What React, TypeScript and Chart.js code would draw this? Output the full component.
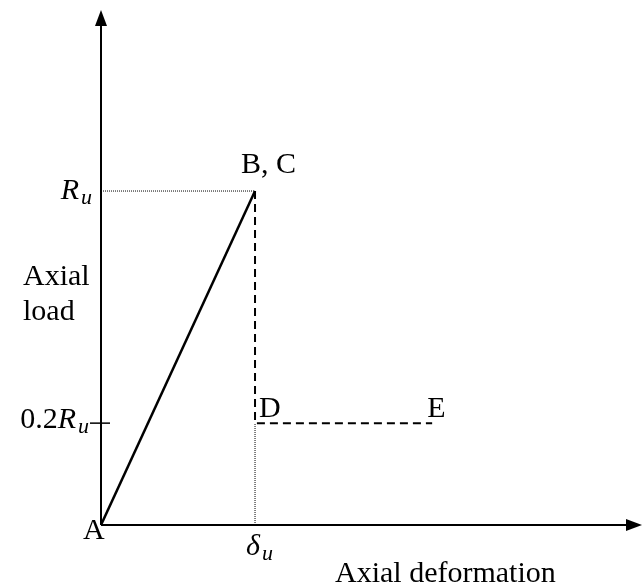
import React, { useEffect, useRef } from "react";
import { Chart, registerables } from "chart.js";

Chart.register(...registerables);

// Key points of the axial load - deformation model (x in units of δu, y in units of Ru as drawn)
const pointNames = ["A", "B, C", "D", "E"];
const deformation = [0, 1, 1, 2.15];
const load = [0, 1, 0.305, 0.305];
const xMax = 3.506;
const yMax = 1.542;
const yTickValues = [1, 0.305];
const yTickMain = ["R", "0.2R"];
const xTickValues = [1];
const xTickMain = ["δ"];
const tickSub = "u";
const xAxisTitle = "Axial deformation";
const yAxisTitle = ["Axial", "load"];

const FONT = "'Liberation Serif', 'Times New Roman', serif";

const pt = (i: number) => ({ x: deformation[i], y: load[i] });

const overlay = {
  id: "overlay",
  afterDraw(chart: any) {
    const { ctx, chartArea, scales } = chart;
    const xs = scales.x, ys = scales.y;
    const ox = xs.getPixelForValue(0);
    const oy = ys.getPixelForValue(0);
    ctx.save();
    ctx.strokeStyle = "#000";
    ctx.fillStyle = "#000";
    ctx.lineWidth = 2;
    // axes
    ctx.beginPath();
    ctx.moveTo(ox, oy);
    ctx.lineTo(ox, chartArea.top + 10);
    ctx.moveTo(ox, oy);
    ctx.lineTo(chartArea.right - 10, oy);
    ctx.stroke();
    // arrowheads
    ctx.beginPath();
    ctx.moveTo(ox, chartArea.top);
    ctx.lineTo(ox - 6, chartArea.top + 16);
    ctx.lineTo(ox + 6, chartArea.top + 16);
    ctx.closePath();
    ctx.fill();
    ctx.beginPath();
    ctx.moveTo(chartArea.right + 1, oy);
    ctx.lineTo(chartArea.right - 15, oy - 6);
    ctx.lineTo(chartArea.right - 15, oy + 6);
    ctx.closePath();
    ctx.fill();
    // tick mark at residual level
    const ty = ys.getPixelForValue(yTickValues[1]);
    ctx.lineWidth = 1.5;
    ctx.beginPath();
    ctx.moveTo(ox - 11, ty);
    ctx.lineTo(ox + 9, ty);
    ctx.stroke();

    ctx.textBaseline = "alphabetic";
    const drawSub = (main: string, x: number, y: number, alignRight: boolean, italicAll: boolean) => {
      const mainFont = "30px " + FONT;
      const itFont = "italic 30px " + FONT;
      const subFont = "italic 22px " + FONT;
      const gap = 2;
      let plain = "";
      let ital = main;
      if (!italicAll) {
        const m = main.match(/^([0-9.]*)(.*)$/);
        if (m) { plain = m[1]; ital = m[2]; }
      }
      ctx.font = mainFont;
      const wp = ctx.measureText(plain).width;
      ctx.font = itFont;
      const wi = ctx.measureText(ital).width;
      ctx.font = subFont;
      const ws = ctx.measureText(tickSub).width;
      let sx = alignRight ? x - (wp + wi + gap + ws) : x;
      ctx.textAlign = "left";
      ctx.font = mainFont;
      ctx.fillText(plain, sx, y);
      sx += wp;
      ctx.font = itFont;
      ctx.fillText(ital, sx, y);
      sx += wi + gap;
      ctx.font = subFont;
      ctx.fillText(tickSub, sx, y + 5);
    };
    yTickValues.forEach((v, i) => {
      const py = ys.getPixelForValue(v);
      drawSub(yTickMain[i], ox - (i === 0 ? 9 : 12), py + (i === 0 ? 8 : 5), true, false);
    });
    xTickValues.forEach((v, i) => {
      const px = xs.getPixelForValue(v);
      drawSub(xTickMain[i], px - 9, oy + 30, false, true);
    });

    // point labels
    ctx.font = "30px " + FONT;
    const px = (i: number) => xs.getPixelForValue(deformation[i]);
    const py = (i: number) => ys.getPixelForValue(load[i]);
    ctx.textAlign = "left";
    ctx.fillText(pointNames[0], px(0) - 18, py(0) + 14);
    ctx.fillText(pointNames[1], px(1) - 14, py(1) - 18);
    ctx.fillText(pointNames[2], px(2) + 4, py(2) - 6);
    ctx.fillText(pointNames[3], px(3) - 5, py(3) - 6);

    // axis titles
    ctx.fillText(xAxisTitle, 335, oy + 57);
    ctx.fillText(yAxisTitle[0], 23, 285);
    ctx.fillText(yAxisTitle[1], 23, 320);
    ctx.restore();
  },
};

export default function App() {
  const ref = useRef<HTMLCanvasElement>(null);
  useEffect(() => {
    if (!ref.current) return;
    const chart = new Chart(ref.current, {
      type: "scatter",
      data: {
        datasets: [
          {
            data: [pt(0), pt(1)],
            showLine: true,
            borderColor: "#000",
            borderWidth: 2.5,
            pointRadius: 0,
          },
          {
            data: [pt(1), pt(2), pt(3)],
            showLine: true,
            borderColor: "#000",
            borderWidth: 2,
            borderDash: [8, 5],
            pointRadius: 0,
          },
          {
            data: [{ x: 0, y: load[1] }, pt(1)],
            showLine: true,
            borderColor: "#000",
            borderWidth: 1,
            borderDash: [1, 1],
            pointRadius: 0,
          },
          {
            data: [{ x: deformation[2], y: 0 }, pt(2)],
            showLine: true,
            borderColor: "#000",
            borderWidth: 1,
            borderDash: [1, 1],
            pointRadius: 0,
          },
        ],
      },
      options: {
        animation: false,
        responsive: false,
        devicePixelRatio: 1,
        layout: { padding: { left: 101, right: 1, top: 10, bottom: 60 } },
        plugins: { legend: { display: false }, tooltip: { enabled: false } },
        scales: {
          x: { type: "linear", min: 0, max: xMax, display: false },
          y: { type: "linear", min: 0, max: yMax, display: false },
        },
      },
      plugins: [overlay],
    });
    return () => chart.destroy();
  }, []);
  return (
    <div style={{ position: "fixed", left: 0, top: 0, width: 642, height: 585, background: "#fff" }}>
      <canvas ref={ref} width={642} height={585} />
    </div>
  );
}
